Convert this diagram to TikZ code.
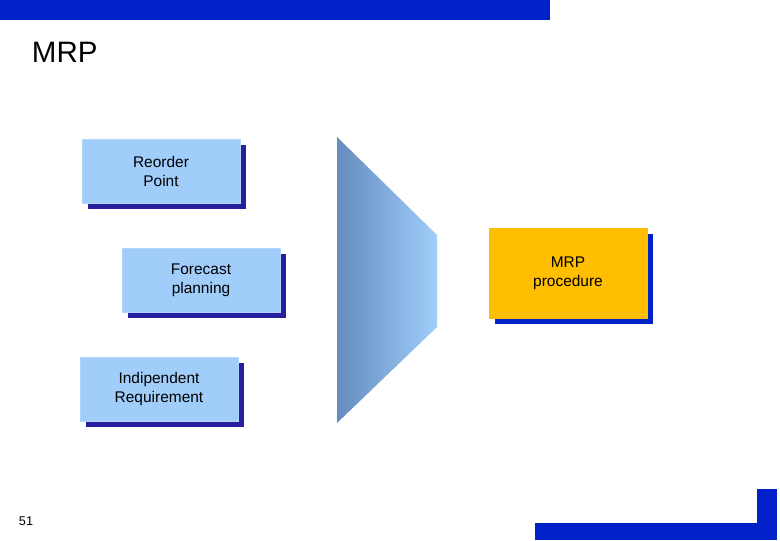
\documentclass[tikz,border=0pt]{standalone}
\usepackage{fontspec}
\setmainfont{Liberation Sans}
\usetikzlibrary{shadows,positioning}
\definecolor{barblue}{RGB}{0,32,200}
\definecolor{lblue}{RGB}{160,205,250}
\definecolor{sblue}{RGB}{100,140,190}
\definecolor{dblue}{RGB}{40,30,160}
\definecolor{orng}{RGB}{255,190,0}
\tikzset{
    block/.style={
        rectangle, fill=lblue, draw=lblue!80!white,
        minimum width=3.95cm, minimum height=1.6cm,
        text width=3.6cm, align=center, font=\fontsize{11}{13.5}\selectfont,
        drop shadow={shadow xshift=0.15cm, shadow yshift=-0.15cm, fill=dblue, opacity=1}
    },
    procblock/.style={
        block, fill=orng, draw=orng, minimum height=2.25cm,
        drop shadow={shadow xshift=0.15cm, shadow yshift=-0.15cm, fill=barblue, opacity=1}
    }
}
\begin{document}
\begin{tikzpicture}[x=0.025cm,y=-0.025cm]
    \useasboundingbox (0,0) rectangle (780,540);
    % bars
    \fill[barblue] (0,0) rectangle (550,20);
    \fill[barblue] (535,523) rectangle (777,540);
    \fill[barblue] (757,489) rectangle (777,540);
    \node[anchor=west, font=\fontsize{21}{24}\selectfont] (title) at (27,52) {MRP};
    \node[anchor=west, font=\fontsize{9}{11}\selectfont] (page) at (14,521) {51};
    % inputs
    \node[block] (reorder) at (161,171) {Reorder\\Point};
    \node[block] (forecast) at (201,280) {Forecast\\planning};
    \node[block] (indip) at (159,389) {Indipendent\\Requirement};
    % funnel
    \shade[left color=sblue, right color=lblue]
        (337,137) -- (437,235) -- (437,327) -- (337,423) -- cycle;
    \node[procblock] (mrp) at (568,273) {MRP\\procedure};
\end{tikzpicture}
\end{document}
